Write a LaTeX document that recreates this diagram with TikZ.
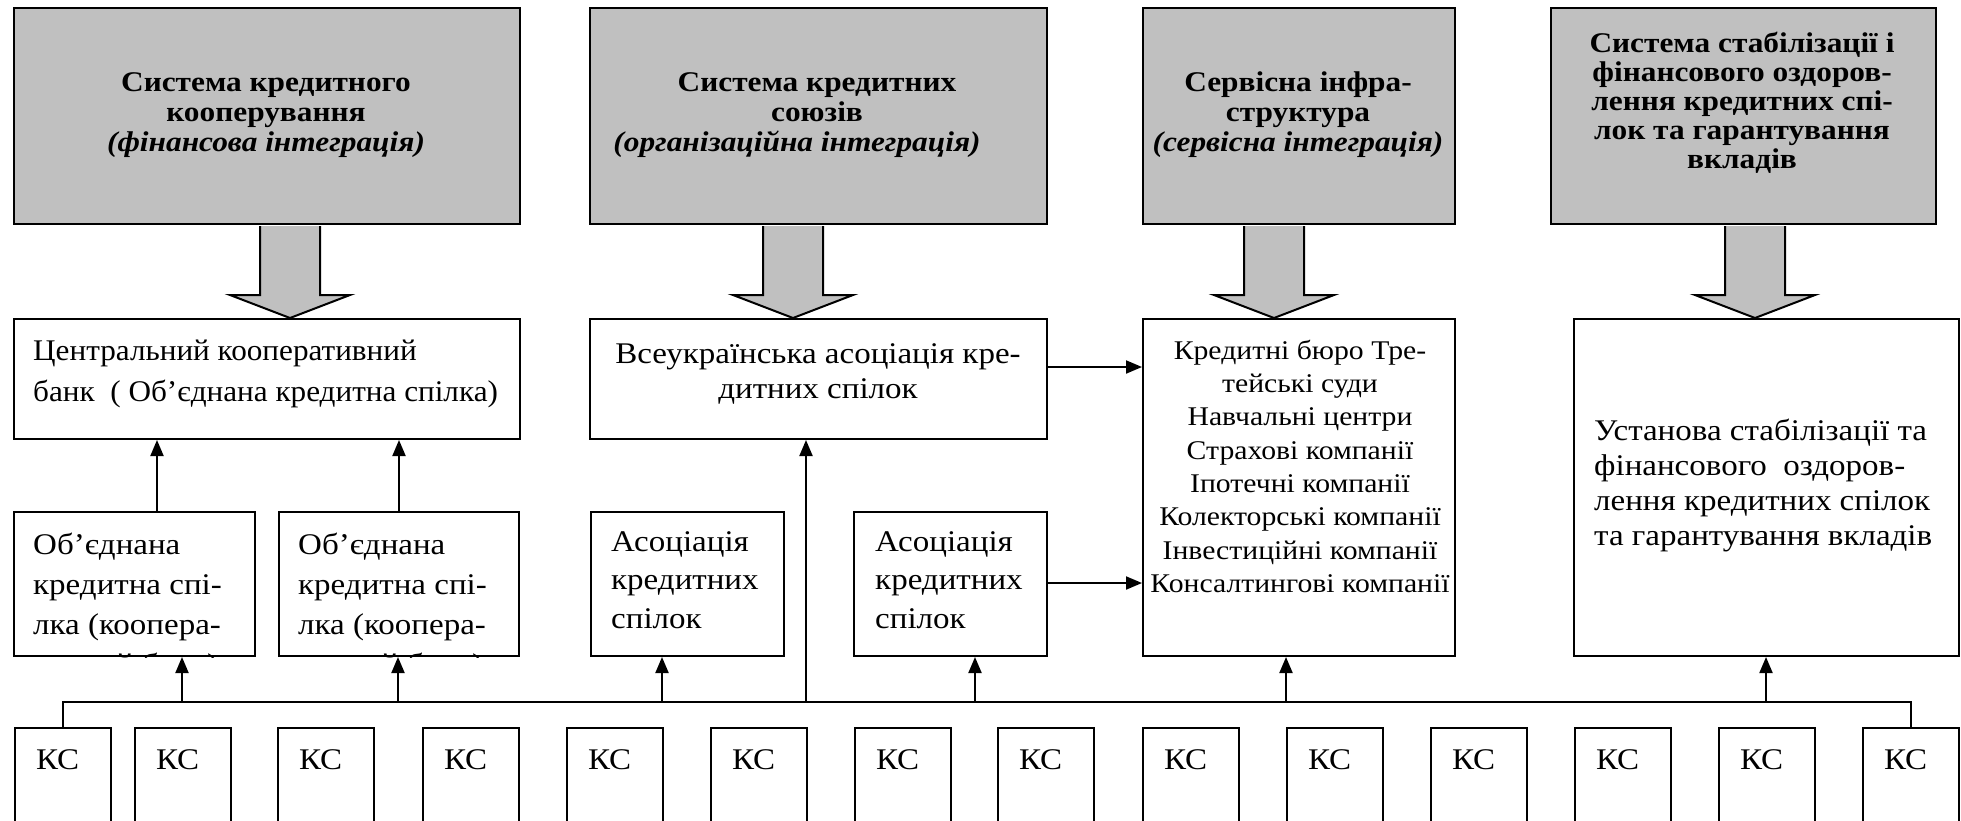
\documentclass[tikz,border=0pt]{standalone}
\usepackage{fontspec}
\setmainfont{Liberation Serif}[FakeStretch=1.1]
\newfontfamily\narrowfont{Liberation Serif}[FakeStretch=1.04]
\usetikzlibrary{arrows.meta,calc}

\definecolor{boxgray}{HTML}{C0C0C0}
\newcommand{\boxstrut}{\rule{0pt}{30pt}}
\newcommand{\bigarrow}[3]{%
  \coordinate (bx) at (#3,0);
  \draw[bigarr] ($(bx |- #1.south)+(-30,1)$) -- ($(bx |- #2.north)+(-30,-23)$) -- ++(-30,0)
    -- (bx |- #2.north) -- ($(bx |- #2.north)+(60,-23)$) -- ++(-30,0) -- ($(bx |- #1.south)+(30,1)$);}

\tikzset{
  box/.style={draw, line width=2pt, inner sep=0pt, anchor=north west},
  sysbox/.style={box, fill=boxgray},
  txt/.style={inner sep=0pt, anchor=north west, align=left},
  ctxt/.style={inner sep=0pt, anchor=north, align=center},
  topfont/.style={font=\fontsize{28.5}{30}\selectfont\bfseries},
  midfont/.style={font=\fontsize{30}{#1}\selectfont},
  ksbox/.style={draw, line width=2pt, anchor=north west, font=\fontsize{30}{36}\selectfont,
    text width=54pt, inner xsep=21pt, inner ysep=11pt, text height=30pt, text depth=51pt, align=left},
  arr/.style={line width=2pt, -{Triangle[length=16pt,width=13pt]}},
  bigarr/.style={draw, line width=2pt, fill=boxgray, line join=miter}
}

\begin{document}
\begin{tikzpicture}[x=1pt,y=-1pt]
  \clip (0,0) rectangle (1961,820);

  % systems
  \node[sysbox, minimum width=506, minimum height=216] (sys1) at (13,7) {};
  \node[sysbox, minimum width=457, minimum height=216] (sys2) at (589,7) {};
  \node[sysbox, minimum width=312, minimum height=216] (sys3) at (1142,7) {};
  \node[sysbox, minimum width=385, minimum height=216] (sys4) at (1550,7) {};
  \node[ctxt, topfont] (sys1t) at (266,61) {\boxstrut Система кредитного\\кооперування\\\textit{(фінансова інтеграція)}};
  \node[ctxt, topfont] (sys2t) at (817,61) {\boxstrut Система кредитних\\союзів\\\textit{(організаційна інтеграція)}\hspace*{40pt}};
  \node[ctxt, topfont] (sys3t) at (1298,61) {\boxstrut Сервісна інфра-\\структура\\\textit{(сервісна інтеграція)}};
  \node[ctxt, font=\fontsize{28.5}{29}\selectfont\bfseries] (sys4t) at (1742,22)
    {\boxstrut Система стабілізації і\\фінансового оздоров-\\лення кредитних спі-\\лок та гарантування\\вкладів};

  % second level
  \node[box, minimum width=506, minimum height=120] (bank) at (13,318) {};
  \node[box, minimum width=457, minimum height=120] (vua) at (589,318) {};
  \node[box, minimum width=312, minimum height=337] (serv) at (1142,318) {};
  \node[box, minimum width=385, minimum height=337] (fund) at (1573,318) {};
  \node[txt, font=\narrowfont\fontsize{30}{41}\selectfont] (bankt) at (33,330)
    {\boxstrut Центральний кооперативний\\банк\ \ ( Об’єднана кредитна спілка)};
  \node[ctxt, midfont=35] (vuat) at (818,333) {\boxstrut Всеукраїнська асоціація кре-\\дитних спілок};
  \node[ctxt, font=\fontsize{27}{33.3}\selectfont] (servt) at (1300,329)
    {\boxstrut Кредитні бюро Тре-\\тейські суди\\Навчальні центри\\Страхові компанії\\Іпотечні компанії\\Колекторські компанії\\Інвестиційні компанії\\Консалтингові компанії};
  \node[txt, midfont=35] (fundt) at (1594,410) {\boxstrut Установа стабілізації та\\фінансового\ \ оздоров-\\лення кредитних спілок\\та гарантування вкладів};

  % third level
  \node[box, minimum width=241, minimum height=144] (oks1) at (13,511) {};
  \node[box, minimum width=240, minimum height=144] (oks2) at (278,511) {};
  \node[box, minimum width=193, minimum height=144] (asoc1) at (590,511) {};
  \node[box, minimum width=193, minimum height=144] (asoc2) at (853,511) {};
  \begin{scope}
    \clip (oks1.north west) rectangle (oks1.south east);
    \node[txt, midfont=40] (oks1t) at (33,524) {\boxstrut Об’єднана\\кредитна спі-\\лка (коопера-\\тивний банк)};
  \end{scope}
  \begin{scope}
    \clip (oks2.north west) rectangle (oks2.south east);
    \node[txt, midfont=40] (oks2t) at (298,524) {\boxstrut Об’єднана\\кредитна спі-\\лка (коопера-\\тивний банк)};
  \end{scope}
  \node[txt, midfont=38.5] (asoc1t) at (611,521) {\boxstrut Асоціація\\кредитних\\спілок};
  \node[txt, midfont=38.5] (asoc2t) at (875,521) {\boxstrut Асоціація\\кредитних\\спілок};

  % credit unions
  \foreach \n/\x in {1/14,2/134,3/277,4/422,5/566,6/710,7/854,8/997,9/1142,10/1286,11/1430,12/1574,13/1718,14/1862}
    \node[ksbox] (ks\n) at (\x,727) {КС};

  % block arrows
  \bigarrow{sys1}{bank}{290}
  \bigarrow{sys2}{vua}{793}
  \bigarrow{sys3}{serv}{1274}
  \bigarrow{sys4}{fund}{1755}

  % connectors
  \coordinate (bus) at (0,702);
  \draw[line width=2pt] (ks1.north) |- (bus -| ks14.north) -- (ks14.north);
  \foreach \t/\x in {oks1/182,oks2/398,asoc1/662,vua/806,asoc2/975,serv/1286,fund/1766}{
    \coordinate (up) at ($(bus)+(\x,0)$);
    \draw[arr] (up) -- (up |- \t.south);
  }
  \coordinate (kx) at (157,0);
  \draw[arr] (kx |- oks1.north) -- (kx |- bank.south);
  \draw[arr] (oks2.north) -- (oks2.north |- bank.south);
  \coordinate (ry) at (0,367);
  \draw[arr] (vua.east |- ry) -- (serv.west |- ry);
  \coordinate (ry2) at (0,583);
  \draw[arr] (asoc2.east |- ry2) -- (serv.west |- ry2);
\end{tikzpicture}
\end{document}
